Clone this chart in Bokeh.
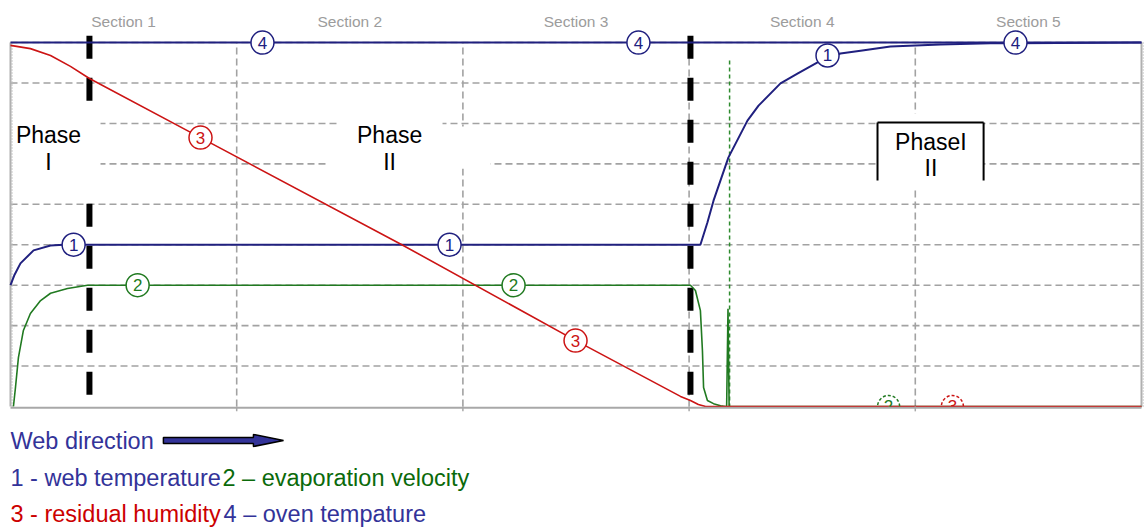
import math
from bokeh.plotting import figure
from bokeh.models import Range1d
from bokeh.core.properties import value
from bokeh.embed import file_html
from bokeh.resources import INLINE

# ---------------- data ----------------
sections = ["Section 1", "Section 2", "Section 3", "Section 4", "Section 5"]
section_pos = [0.5, 1.5, 2.5, 3.5, 4.5]
grid_x = [1, 2, 3, 4]
grid_y = [1, 2, 3, 4, 5, 6, 7, 8, 9]

# 1 - web temperature
web_x = [0.0, 0.018, 0.044, 0.102, 0.177, 0.234, 3.050, 3.081, 3.108, 3.174, 3.258,
         3.307, 3.404, 3.479, 3.568, 3.669, 3.758, 3.890, 4.111, 4.332, 5.0]
web_y = [3.0, 3.26, 3.54, 3.86, 3.98, 4.0, 4.0, 4.55, 5.09, 6.16, 7.07,
         7.44, 7.99, 8.23, 8.51, 8.73, 8.80, 8.90, 8.95, 8.98, 9.0]

# 2 - evaporation velocity
evap_x = [0.013, 0.022, 0.035, 0.057, 0.088, 0.133, 0.177, 0.252, 0.340, 3.006, 3.028,
          3.050, 3.059, 3.064, 3.081, 3.108, 3.139, 3.161, 3.166, 3.172, 3.177, 5.0]
evap_y = [0.0, 0.47, 1.21, 1.88, 2.30, 2.62, 2.80, 2.92, 3.0, 3.0, 2.87,
          2.37, 1.38, 0.47, 0.15, 0.07, 0.02, 0.0, 0.0, 2.42, 0.0, 0.0]

# 3 - residual humidity
hum_x = [0.0, 0.088, 0.177, 0.265, 0.349, 0.840, 1.724, 2.489, 2.962, 3.006, 3.041, 3.073, 5.0]
hum_y = [8.93, 8.85, 8.68, 8.41, 8.11, 6.65, 4.02, 1.66, 0.25, 0.15, 0.05, 0.0, 0.0]

# 4 - oven temperature
oven_x = [0.0, 5.0]
oven_y = [9.0, 9.0]

# curve number markers
m1_x, m1_y = [0.279, 1.941, 3.612], [4.0, 4.0, 8.68]
m2_x, m2_y = [0.562, 2.224], [3.0, 3.0]
m3_x, m3_y = [0.840, 2.498], [6.65, 1.63]
m4_x, m4_y = [1.114, 2.776, 4.443], [9.0, 9.0, 9.0]
m2_cut_x, m3_cut_x = [3.882], [4.164]

phase_bounds = [0.349, 3.006]
evap_end = [3.179]

# ---------------- colours ----------------
NAVY = "#20207f"
GREEN = "#217a21"
RED = "#cc1414"
GRID = "#a2a2a2"
T_NAVY = "#333399"
T_GREEN = "#0a6a0a"
T_RED = "#cc0000"

SANS = value("Liberation Sans")

p = figure(width=1144, height=532,
           x_range=Range1d(-0.0442, 5.0133), y_range=Range1d(-3.116, 10.040),
           output_backend="svg", toolbar_location=None,
           x_axis_location=None, y_axis_location=None, min_border=0)
p.grid.visible = False
p.outline_line_color = None
p.background_fill_color = "white"

# grid
p.segment(x0=grid_x, y0=[0] * len(grid_x), x1=grid_x, y1=[9] * len(grid_x),
          line_color=GRID, line_width=1.6, line_dash="7 4")
p.segment(x0=[0] * len(grid_y), y0=grid_y, x1=[5] * len(grid_y), y1=grid_y,
          line_color=GRID, line_width=1.6, line_dash="7 4")

# phase boundaries (thick black dashes)
p.segment(x0=phase_bounds, y0=[9.17] * 2, x1=phase_bounds, y1=[0.27] * 2,
          line_color="black", line_width=6, line_dash="23 19")

# white masks behind the phase captions
p.quad(left=[-0.01, 1.450, 1.406, 3.833], right=[0.398, 1.910, 2.122, 4.302],
       top=[7.245, 7.270, 6.924, 7.245], bottom=[5.415, 5.786, 5.885, 5.415],
       fill_color="white", line_color=None)

# frame edges
p.segment(x0=[0, 5.0], y0=[0, 0], x1=[0, 5.0], y1=[9, 9], line_color="#b0b0b0", line_width=2)
p.segment(x0=[0.006, 5.009], y0=[0, 0], x1=[0.006, 5.009], y1=[9, 9],
          line_color="#c0c0c0", line_width=2, line_dash="1 2")

# end of evaporation marker (green thin dashes)
p.segment(x0=evap_end, y0=[8.556], x1=evap_end, y1=[0], line_color="#2e8b2e",
          line_width=1.5, line_dash="4 3")

# curves
p.line(oven_x, oven_y, line_color=NAVY, line_width=2)
p.line(web_x, web_y, line_color=NAVY, line_width=2)
p.line(evap_x, evap_y, line_color=GREEN, line_width=1.6)
p.line(hum_x, hum_y, line_color=RED, line_width=1.6)

# numbered markers
for xs, ys, col, lab in [(m1_x, m1_y, NAVY, "1"), (m2_x, m2_y, GREEN, "2"),
                         (m3_x, m3_y, RED, "3"), (m4_x, m4_y, NAVY, "4")]:
    p.scatter(xs, ys, marker="circle", size=23, fill_color="white",
              line_color=col, line_width=1.5)
    p.text(xs, ys, text=[lab] * len(xs), text_color=col, text_font=SANS,
           text_font_size="17px", text_align="center", text_baseline="middle")

# cut-off markers at the bottom edge
for xs, col, lab in [(m2_cut_x, GREEN, "2"), (m3_cut_x, RED, "3")]:
    p.arc(xs, [0], radius=11, radius_units="screen", start_angle=0, end_angle=math.pi,
          line_color=col, line_width=1.5, line_dash="3 2")
    p.text(xs, [0], text=[lab], text_color=col, text_font=SANS, text_font_size="17px",
           text_align="center", text_baseline="middle")
p.quad(left=[3.75], right=[4.35], top=[-0.03], bottom=[-0.4], fill_color="white", line_color=None)

# bottom axis
p.segment(x0=[0], y0=[-0.03], x1=[5.0], y1=[-0.03], line_color="#a8a8a8", line_width=2)
p.segment(x0=grid_x, y0=[0] * len(grid_x), x1=grid_x, y1=[-0.12] * len(grid_x),
          line_color="#a8a8a8", line_width=1.5)

# phase III box border
p.segment(x0=[3.833, 3.833, 4.302], y0=[7.023, 7.023, 7.023],
          x1=[4.302, 3.833, 4.302], y1=[7.023, 5.589, 5.589],
          line_color="black", line_width=2)

# section labels
p.text(section_pos, [9.520] * 5, text=sections, text_color="#9c9c9c", text_font=SANS,
       text_font_size="15.5px", text_align="center", text_baseline="alphabetic")

# phase captions
p.text([0.168, 1.676, 4.069], [6.726, 6.726, 6.553], text=["Phase", "Phase", "PhaseI"],
       text_color="black", text_font=SANS, text_font_size="23px",
       text_align="center", text_baseline="alphabetic")
p.text([0.168, 1.676, 4.069], [6.034, 6.034, 5.886], text=["I", "II", "II"],
       text_color="black", text_font=SANS, text_font_size="23px",
       text_align="center", text_baseline="alphabetic")

# legend / caption texts below the chart
legend_text = ["Web direction", "1 - web temperature", "2 \u2013 evaporation velocity",
               "3 - residual humidity", "4 \u2013 oven tempature"]
legend_x = [0.0, 0.0, 0.937, 0.0, 0.942]
legend_y = [-0.865, -1.780, -1.780, -2.670, -2.670]
legend_col = [T_NAVY, T_NAVY, T_GREEN, T_RED, T_NAVY]
p.text(legend_x, legend_y, text=legend_text, text_color=legend_col, text_font=SANS,
       text_font_size="23.5px", text_align="left", text_baseline="alphabetic")

# web direction arrow
p.patch([0.676, 1.074, 1.074, 1.207, 1.074, 1.074, 0.676],
        [-0.767, -0.767, -0.692, -0.841, -0.989, -0.915, -0.915],
        fill_color=T_NAVY, line_color="black", line_width=1.5)

open("out.html", "w").write(file_html(p, INLINE))
